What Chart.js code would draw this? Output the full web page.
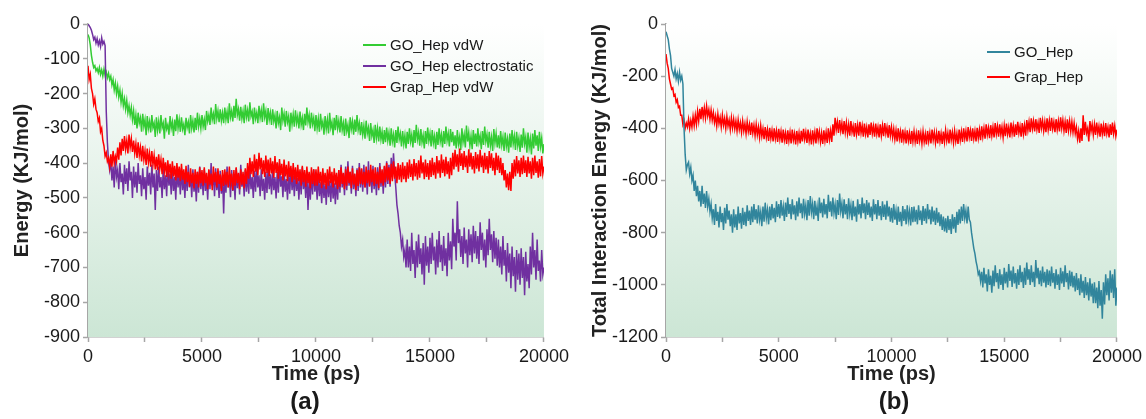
<!DOCTYPE html>
<html>
<head>
<meta charset="utf-8">
<script src="https://cdn.jsdelivr.net/npm/chart.js@4.4.1/dist/chart.umd.min.js"></script>
<style>
  html, body { margin: 0; padding: 0; background: #ffffff; }
  #wrap { position: relative; width: 1146px; height: 419px; overflow: hidden; font-family: "Liberation Sans", Arial, sans-serif; color: #1a1a1a; }
  canvas { position: absolute; top: 0; }
  #cA { left: 0; }
  #cB { left: 573px; }
  .lg { position: absolute; display: flex; align-items: center; font-size: 15px; line-height: 18px; white-space: nowrap; }
  .lg span.ln { display: inline-block; width: 23px; height: 2px; margin-right: 4px; }
  .pl { position: absolute; font-weight: bold; font-size: 24px; line-height: 28px; transform: translateX(-50%); }
</style>
</head>
<body>
<div id="wrap">
  <canvas id="cA" width="573" height="419"></canvas>
  <canvas id="cB" width="573" height="419"></canvas>
  <div id="legA"></div>
  <div id="legB"></div>
  <div class="pl" style="left:305px; top:387px;">(a)</div>
  <div class="pl" style="left:894px; top:387px;">(b)</div>
</div>
<script>
const TIME_STEP_PS = 50;
const xTickLabels = [0, 5000, 10000, 15000, 20000];
const yTickLabelsA = [0, -100, -200, -300, -400, -500, -600, -700, -800, -900];
const yTickLabelsB = [0, -200, -400, -600, -800, -1000, -1200];

const seriesNamesA = ['GO_Hep vdW', 'GO_Hep electrostatic', 'Grap_Hep vdW'];
const seriesNamesB = ['GO_Hep', 'Grap_Hep'];

// (a) GO_Hep vdW
const goHepVdw = [
  -30, -40, -60, -90, -110, -125, -120, -135, -128, -140, -125, -145, -132, -150, -130, -148, -138, -155, -142, -160,
  -150, -175, -160, -190, -170, -200, -178, -210, -190, -225, -200, -235, -215, -245, -220, -255, -235, -262, -240, -275,
  -250, -290, -262, -300, -255, -285, -270, -310, -258, -295, -275, -320, -265, -300, -280, -312, -262, -298, -285, -325,
  -268, -305, -280, -315, -262, -298, -285, -330, -270, -302, -290, -318, -265, -300, -282, -322, -275, -308, -260, -300,
  -275, -310, -268, -302, -288, -320, -270, -298, -282, -315, -262, -300, -278, -312, -270, -305, -255, -295, -272, -300,
  -262, -295, -275, -305, -250, -280, -262, -290, -240, -275, -258, -288, -230, -272, -250, -282, -245, -278, -255, -285,
  -240, -275, -252, -285, -228, -268, -250, -280, -235, -270, -215, -262, -245, -278, -238, -272, -250, -285, -232, -268,
  -248, -280, -225, -265, -252, -288, -240, -272, -255, -285, -235, -270, -248, -282, -228, -268, -250, -290, -242, -275,
  -255, -290, -245, -280, -262, -300, -250, -285, -268, -305, -240, -278, -258, -295, -250, -282, -265, -310, -255, -288,
  -260, -295, -248, -285, -265, -300, -252, -290, -270, -305, -258, -292, -240, -282, -262, -300, -255, -288, -270, -308,
  -262, -300, -272, -310, -258, -295, -280, -318, -265, -302, -275, -315, -255, -298, -282, -320, -270, -305, -262, -300,
  -278, -312, -265, -305, -285, -322, -272, -308, -290, -328, -268, -302, -280, -318, -275, -310, -262, -305, -285, -320,
  -282, -318, -292, -330, -278, -315, -298, -336, -285, -322, -305, -342, -290, -328, -300, -338, -295, -332, -310, -345,
  -305, -340, -298, -335, -312, -350, -300, -338, -318, -355, -305, -342, -295, -332, -315, -352, -308, -345, -320, -358,
  -310, -345, -300, -338, -318, -355, -305, -342, -290, -332, -312, -350, -302, -340, -320, -358, -308, -345, -298, -336,
  -315, -352, -305, -342, -322, -360, -310, -348, -300, -338, -318, -355, -308, -345, -295, -335, -315, -352, -302, -340,
  -310, -350, -320, -358, -305, -345, -325, -362, -300, -340, -318, -355, -292, -338, -312, -350, -322, -360, -305, -345,
  -315, -352, -300, -340, -322, -360, -308, -348, -295, -338, -318, -356, -310, -350, -325, -365, -302, -342, -315, -355,
  -320, -358, -308, -348, -325, -365, -312, -352, -330, -370, -315, -355, -305, -345, -322, -362, -310, -350, -328, -368,
  -318, -356, -300, -345, -325, -370, -312, -355, -330, -375, -315, -358, -305, -350, -320, -365, -310, -352, -328, -372,
  -345
];

// (a) GO_Hep electrostatic
const goHepElec = [
  0, -5, -10, -18, -30, -45, -38, -55, -42, -60, -48, -65, -40, -58, -50, -62, -250, -340, -395, -420,
  -395, -450, -410, -470, -385, -440, -420, -475, -400, -455, -430, -490, -405, -460, -415, -480, -395, -450, -425, -500,
  -410, -470, -425, -485, -400, -460, -435, -495, -415, -475, -440, -505, -410, -465, -428, -490, -405, -470, -430, -535,
  -420, -480, -410, -470, -440, -500, -415, -475, -435, -495, -405, -465, -430, -490, -418, -480, -440, -505, -412, -470,
  -430, -490, -415, -478, -440, -500, -420, -480, -405, -470, -435, -498, -418, -482, -442, -510, -425, -485, -410, -475,
  -430, -492, -418, -480, -445, -505, -420, -475, -400, -465, -432, -495, -415, -478, -440, -500, -422, -488, -435, -545,
  -425, -485, -410, -470, -438, -498, -420, -480, -445, -505, -415, -472, -430, -490, -405, -468, -436, -496, -420, -482,
  -430, -488, -415, -475, -440, -500, -422, -482, -410, -470, -435, -495, -418, -480, -445, -505, -425, -486, -412, -475,
  -432, -490, -418, -478, -440, -502, -425, -485, -400, -468, -438, -498, -420, -482, -446, -505, -428, -488, -415, -478,
  -435, -495, -420, -480, -442, -505, -428, -490, -412, -475, -440, -500, -425, -535, -448, -505, -430, -490, -418, -482,
  -445, -505, -430, -495, -455, -515, -440, -500, -460, -520, -435, -498, -450, -512, -438, -502, -458, -518, -442, -505,
  -420, -485, -405, -470, -430, -492, -410, -478, -395, -465, -425, -488, -408, -475, -432, -495, -415, -480, -400, -470,
  -418, -482, -405, -470, -425, -490, -395, -465, -420, -485, -408, -475, -430, -492, -412, -478, -400, -468, -422, -488,
  -410, -470, -395, -460, -405, -468, -385, -440, -372, -430, -470, -520, -545, -580, -600, -640, -620, -670, -650, -700,
  -620, -700, -640, -710, -600, -690, -650, -730, -625, -700, -605, -690, -645, -720, -630, -750, -610, -695, -640, -715,
  -615, -690, -600, -680, -640, -720, -620, -700, -595, -685, -635, -710, -610, -695, -645, -725, -600, -680, -625, -705,
  -560, -640, -600, -680, -510, -630, -590, -670, -610, -690, -585, -660, -620, -700, -590, -665, -605, -685, -580, -660,
  -595, -675, -610, -690, -570, -650, -600, -680, -620, -700, -590, -665, -560, -650, -605, -685, -595, -675, -615, -695,
  -620, -700, -640, -720, -610, -695, -650, -740, -630, -715, -660, -760, -640, -725, -670, -770, -650, -735, -660, -750,
  -645, -730, -670, -780, -655, -740, -690, -760, -640, -720, -600, -700, -650, -735, -620, -710, -680, -740, -650, -720,
  -700
];

// (a) Grap_Hep vdW
const grapHepVdw = [
  -120, -160, -145, -185, -200, -230, -215, -245, -255, -280, -270, -310, -300, -335, -350, -380, -370, -395, -385, -410,
  -375, -410, -365, -400, -380, -395, -355, -390, -340, -378, -330, -365, -322, -360, -335, -372, -318, -355, -330, -368,
  -335, -372, -345, -385, -340, -378, -355, -395, -350, -390, -365, -405, -358, -398, -372, -410, -365, -405, -378, -418,
  -382, -420, -375, -415, -390, -432, -385, -425, -398, -440, -392, -430, -402, -445, -395, -438, -408, -450, -400, -442,
  -410, -452, -402, -448, -418, -460, -408, -455, -425, -468, -415, -458, -428, -472, -418, -460, -425, -470, -412, -458,
  -420, -465, -412, -458, -428, -475, -418, -462, -430, -478, -410, -455, -425, -470, -415, -460, -432, -480, -420, -466,
  -418, -462, -425, -470, -410, -455, -430, -478, -420, -465, -412, -458, -428, -475, -418, -462, -425, -472, -415, -460,
  -400, -445, -385, -432, -395, -440, -375, -425, -388, -435, -370, -418, -385, -432, -392, -440, -378, -428, -390, -438,
  -385, -430, -395, -442, -380, -428, -398, -445, -388, -435, -402, -450, -390, -438, -405, -452, -395, -440, -408, -455,
  -400, -448, -412, -460, -405, -452, -418, -465, -408, -455, -420, -468, -410, -458, -425, -472, -412, -460, -418, -465,
  -418, -465, -410, -458, -425, -472, -415, -462, -428, -475, -418, -465, -410, -458, -425, -470, -415, -462, -428, -475,
  -420, -468, -412, -460, -428, -475, -418, -465, -410, -458, -425, -472, -415, -462, -430, -478, -420, -466, -412, -460,
  -415, -462, -425, -470, -410, -458, -420, -468, -405, -455, -418, -465, -412, -460, -425, -472, -410, -458, -418, -465,
  -408, -455, -400, -450, -412, -460, -402, -452, -395, -445, -410, -458, -400, -448, -405, -455, -398, -446, -408, -455,
  -398, -445, -390, -440, -402, -450, -388, -438, -400, -448, -392, -442, -378, -430, -398, -446, -390, -440, -400, -448,
  -392, -440, -385, -435, -398, -445, -380, -430, -392, -442, -375, -428, -390, -438, -382, -432, -395, -445, -385, -435,
  -370, -418, -362, -410, -375, -425, -358, -408, -372, -420, -365, -412, -378, -428, -360, -410, -370, -418, -380, -430,
  -368, -416, -375, -424, -362, -412, -378, -428, -370, -418, -380, -430, -365, -414, -372, -422, -385, -435, -370, -420,
  -378, -428, -385, -435, -400, -450, -420, -470, -430, -478, -425, -480, -400, -445, -390, -438, -380, -430, -392, -440,
  -385, -432, -378, -428, -392, -440, -382, -430, -395, -445, -385, -435, -378, -428, -395, -442, -388, -438, -380, -430,
  -410
];

// (b) GO_Hep total interaction energy
const goHepTotal = [
  -30, -45, -60, -95, -120, -170, -185, -200, -175, -210, -190, -220, -185, -215, -200, -230, -400, -500, -560, -540,
  -530, -575, -550, -600, -580, -640, -600, -660, -620, -680, -640, -700, -620, -690, -650, -705, -640, -700, -670, -720,
  -690, -745, -710, -770, -690, -755, -720, -780, -700, -760, -725, -790, -705, -765, -690, -750, -715, -775, -730, -800,
  -710, -780, -730, -790, -700, -765, -725, -785, -705, -770, -720, -775, -695, -755, -715, -770, -700, -760, -690, -750,
  -710, -765, -695, -750, -720, -775, -700, -758, -685, -745, -712, -768, -700, -752, -690, -745, -705, -760, -680, -740,
  -690, -745, -675, -735, -700, -755, -685, -740, -665, -728, -690, -748, -672, -730, -695, -752, -680, -738, -665, -725,
  -688, -745, -670, -728, -695, -752, -675, -735, -660, -722, -690, -748, -678, -735, -700, -755, -665, -725, -685, -742,
  -670, -730, -690, -745, -655, -720, -680, -738, -665, -725, -692, -748, -675, -732, -650, -718, -688, -745, -672, -730,
  -690, -748, -668, -728, -695, -752, -678, -738, -700, -758, -672, -730, -690, -745, -665, -725, -688, -748, -675, -732,
  -685, -742, -700, -755, -672, -730, -690, -748, -675, -735, -698, -752, -680, -740, -692, -750, -678, -738, -700, -758,
  -705, -762, -690, -750, -715, -770, -700, -758, -720, -775, -698, -755, -710, -768, -695, -752, -718, -772, -702, -760,
  -700, -758, -712, -768, -695, -752, -715, -770, -698, -755, -708, -765, -690, -748, -712, -768, -700, -758, -715, -770,
  -705, -762, -722, -775, -730, -790, -738, -795, -745, -800, -735, -790, -748, -805, -730, -785, -740, -800, -720, -770,
  -710, -765, -700, -755, -690, -745, -715, -765, -700, -750, -760, -800, -830, -860, -880, -910, -930, -960, -950, -985,
  -950, -1010, -935, -995, -960, -1025, -940, -1000, -965, -1030, -945, -1005, -925, -990, -955, -1015, -940, -1000, -960, -1020,
  -935, -995, -950, -1010, -920, -985, -945, -1008, -930, -995, -955, -1015, -940, -1000, -925, -990, -950, -1012, -935, -1000,
  -915, -980, -940, -1000, -925, -990, -950, -1008, -905, -975, -935, -998, -945, -1005, -930, -992, -950, -1010, -940, -1000,
  -945, -1005, -930, -992, -955, -1015, -940, -1000, -960, -1020, -935, -995, -948, -1008, -925, -990, -955, -1018, -945, -1005,
  -950, -1010, -965, -1025, -955, -1020, -975, -1040, -960, -1030, -985, -1050, -970, -1040, -990, -1060, -975, -1045, -995, -1070,
  -990, -1070, -1010, -1090, -985, -1080, -1020, -1130, -990, -1075, -960, -1040, -975, -1060, -945, -1030, -960, -1050, -940, -1080,
  -1010
];

// (b) Grap_Hep total interaction energy
const grapHepTotal = [
  -115, -150, -170, -210, -230, -250, -245, -275, -270, -300, -290, -320, -315, -350, -350, -385, -370, -400, -380, -395,
  -365, -400, -370, -395, -355, -390, -350, -385, -335, -372, -325, -365, -318, -358, -322, -360, -315, -352, -328, -365,
  -330, -368, -340, -378, -352, -390, -345, -382, -358, -395, -350, -388, -362, -400, -355, -392, -368, -405, -360, -398,
  -365, -402, -372, -410, -368, -405, -378, -415, -372, -410, -382, -420, -375, -412, -385, -425, -378, -418, -388, -428,
  -385, -425, -395, -435, -390, -430, -402, -442, -395, -435, -405, -448, -398, -438, -408, -450, -400, -440, -410, -452,
  -402, -442, -412, -455, -405, -445, -418, -460, -408, -448, -415, -458, -405, -445, -420, -462, -410, -450, -418, -458,
  -410, -450, -402, -442, -415, -456, -405, -448, -420, -462, -408, -448, -415, -458, -400, -442, -412, -452, -418, -460,
  -408, -448, -415, -456, -400, -442, -410, -452, -385, -428, -360, -405, -375, -418, -368, -410, -380, -422, -372, -415,
  -378, -420, -385, -428, -372, -415, -392, -432, -380, -422, -388, -428, -375, -418, -390, -432, -382, -422, -395, -435,
  -385, -425, -378, -420, -392, -432, -382, -422, -395, -435, -385, -428, -390, -430, -380, -420, -395, -436, -388, -428,
  -395, -435, -402, -442, -408, -450, -400, -440, -412, -455, -405, -445, -415, -458, -408, -448, -418, -460, -410, -450,
  -412, -452, -420, -460, -408, -448, -418, -458, -412, -452, -422, -462, -410, -450, -418, -458, -405, -445, -415, -456,
  -418, -458, -410, -450, -420, -460, -412, -452, -408, -448, -418, -458, -405, -445, -415, -455, -410, -450, -420, -460,
  -405, -445, -412, -452, -400, -440, -410, -450, -395, -435, -408, -448, -400, -440, -410, -450, -398, -438, -405, -445,
  -392, -432, -400, -440, -385, -425, -398, -438, -388, -428, -395, -435, -380, -422, -392, -432, -385, -425, -395, -435,
  -390, -430, -382, -422, -395, -435, -378, -420, -390, -432, -385, -425, -375, -418, -392, -432, -380, -422, -388, -428,
  -368, -408, -375, -415, -362, -402, -372, -412, -365, -405, -378, -418, -360, -400, -370, -410, -375, -415, -362, -405,
  -370, -410, -360, -402, -375, -415, -365, -405, -372, -412, -358, -400, -368, -410, -375, -418, -365, -408, -372, -412,
  -375, -415, -380, -420, -395, -440, -410, -455, -400, -448, -350, -425, -375, -418, -400, -450, -372, -412, -385, -425,
  -385, -425, -378, -420, -392, -432, -382, -422, -390, -430, -380, -420, -395, -435, -385, -425, -378, -420, -390, -430,
  -405
];

const colorsA = ['#33cc33', '#7030a0', '#ff0000'];
const colorsB = ['#31859c', '#ff0000'];
// ---------------------------------------------------------------------------------------

const timePs = goHepVdw.map((_, i) => i * TIME_STEP_PS);
const FONT = '"Liberation Sans", Arial, sans-serif';
const TXT = '#1a1a1a';
const AXIS = '#a6a6a6';

const bgPlugin = {
  id: 'plotBg',
  beforeDatasetsDraw(chart) {
    const { ctx, chartArea: a } = chart;
    const g = ctx.createLinearGradient(0, a.top, 0, a.bottom);
    g.addColorStop(0, '#ffffff');
    g.addColorStop(1, '#cce6d5');
    ctx.save();
    ctx.fillStyle = g;
    ctx.fillRect(a.left, a.top, a.right - a.left, a.bottom - a.top);
    ctx.restore();
  }
};

function makeOptions(cfg) {
  return {
    responsive: false,
    animation: false,
    devicePixelRatio: 1,
    layout: { padding: { left: 0, right: cfg.padRight, top: 24, bottom: 0 } },
    plugins: { legend: { display: false }, tooltip: { enabled: false } },
    elements: { point: { radius: 0 }, line: { borderWidth: 1.5, tension: 0 } },
    scales: {
      x: {
        type: 'linear', min: 0, max: 20000,
        afterFit: s => { s.height = 82; },
        ticks: {
          stepSize: 2500, autoSkip: false, maxRotation: 0, padding: 4,
          color: TXT, font: { family: FONT, size: 18 },
          callback: v => xTickLabels.includes(v) ? String(v) : ''
        },
        grid: { drawOnChartArea: false, drawTicks: true, tickLength: 5, tickColor: AXIS, tickWidth: 1.5 },
        border: { display: true, color: AXIS, width: 1.5 },
        title: { display: true, text: 'Time (ps)', color: '#222', font: { family: FONT, size: 20, weight: 'bold' }, padding: { top: 0, bottom: 33 } }
      },
      y: {
        type: 'linear', min: cfg.yMin, max: 0,
        afterFit: s => { s.width = cfg.yWidth; },
        ticks: {
          stepSize: cfg.yStep, padding: 3, color: TXT, font: { family: FONT, size: 18 },
          callback: v => cfg.yTicks.includes(v) ? String(v) : ''
        },
        grid: { drawOnChartArea: false, drawTicks: true, tickLength: 5, tickColor: AXIS, tickWidth: 1.5 },
        border: { display: true, color: AXIS, width: 1.5 },
        title: { display: true, text: cfg.yTitle, color: '#222', font: { family: FONT, size: 20, weight: 'bold' }, padding: { top: cfg.yTitlePad, bottom: 0 } }
      }
    }
  };
}

new Chart(document.getElementById('cA'), {
  type: 'line',
  data: {
    labels: timePs,
    datasets: [
      { label: seriesNamesA[0], data: goHepVdw, borderColor: colorsA[0], order: 2 },
      { label: seriesNamesA[1], data: goHepElec, borderColor: colorsA[1], order: 1 },
      { label: seriesNamesA[2], data: grapHepVdw, borderColor: colorsA[2], order: 0 }
    ]
  },
  options: makeOptions({ padRight: 25, yMin: -900, yStep: 100, yWidth: 88, yTicks: yTickLabelsA, yTitle: 'Energy (KJ/mol)', yTitlePad: 10 }),
  plugins: [bgPlugin]
});

new Chart(document.getElementById('cB'), {
  type: 'line',
  data: {
    labels: timePs,
    datasets: [
      { label: seriesNamesB[0], data: goHepTotal, borderColor: colorsB[0], order: 0 },
      { label: seriesNamesB[1], data: grapHepTotal, borderColor: colorsB[1], order: 1 }
    ]
  },
  options: makeOptions({ padRight: 28, yMin: -1200, yStep: 200, yWidth: 93, yTicks: yTickLabelsB, yTitle: 'Total Interaction Energy (KJ/mol)', yTitlePad: 15.5 }),
  plugins: [bgPlugin]
});

// HTML legends
function buildLegend(el, names, colors, left, tops) {
  names.forEach((n, i) => {
    const d = document.createElement('div');
    d.className = 'lg';
    d.style.left = left + 'px';
    d.style.top = (tops[i] - 9) + 'px';
    const ln = document.createElement('span');
    ln.className = 'ln';
    ln.style.background = colors[i];
    const t = document.createElement('span');
    t.textContent = n;
    d.appendChild(ln); d.appendChild(t);
    el.appendChild(d);
  });
}
buildLegend(document.getElementById('legA'), seriesNamesA, colorsA, 363, [45, 66, 87]);
buildLegend(document.getElementById('legB'), seriesNamesB, colorsB, 987, [52, 76.5]);
</script>
</body>
</html>
